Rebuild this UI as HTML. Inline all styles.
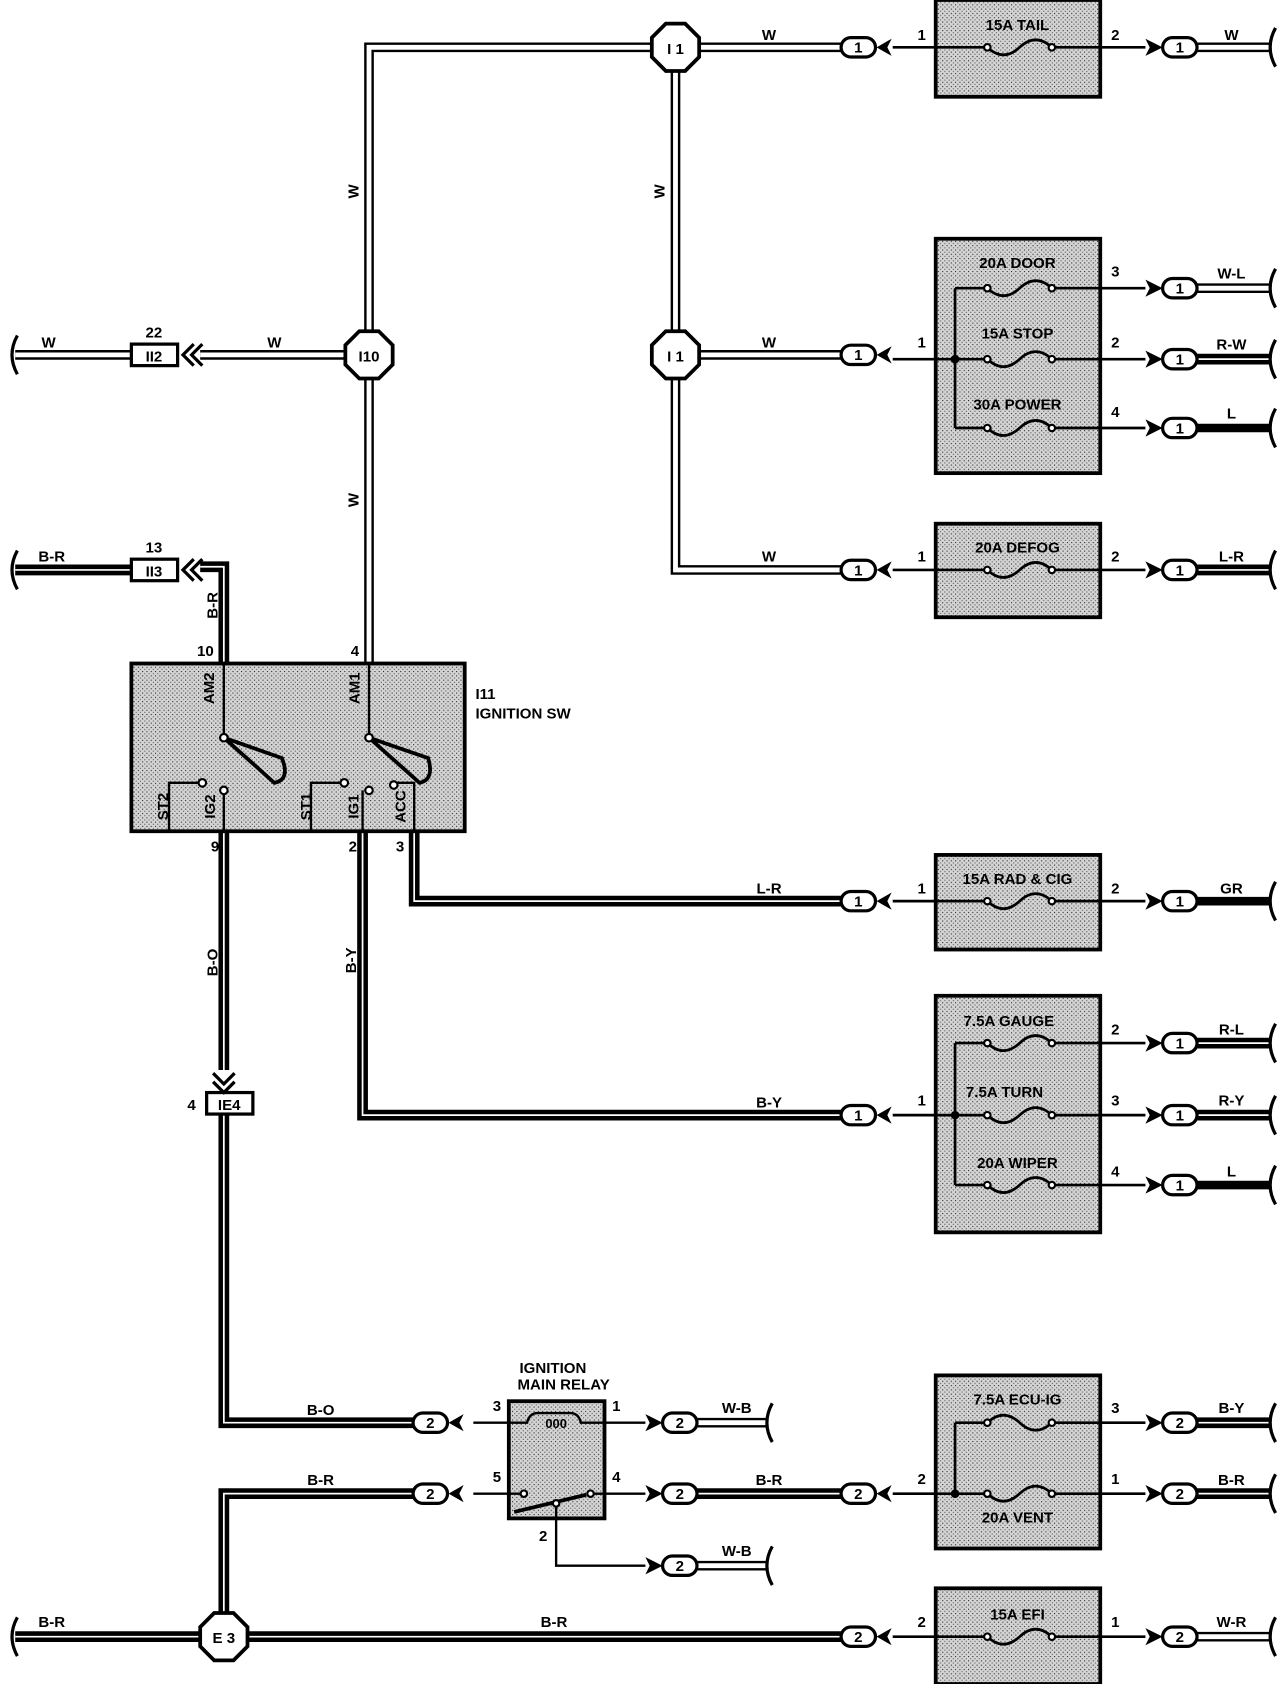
<!DOCTYPE html>
<html><head><meta charset="utf-8"><style>
html,body{margin:0;padding:0;background:#fff;}
svg{display:block;}
text{font-family:"Liberation Sans",sans-serif;font-weight:bold;font-size:14px;fill:#000;}
.t{text-anchor:middle;}
.box{fill:url(#dots);stroke:#000;stroke-width:3.5;}
.c{fill:#fff;stroke:#000;stroke-width:3;}
.ln{fill:none;stroke:#000;stroke-width:2.2;}
.wo{fill:none;stroke:#000;stroke-width:9;}
.wi{fill:none;stroke:#fff;stroke-width:4.5;}
.bo{fill:none;stroke:#000;stroke-width:10;}
.bi{fill:none;stroke:#fff;stroke-width:1.6;}
.th{fill:none;stroke:#000;stroke-width:8;}
.br{fill:none;stroke:#000;stroke-width:3;}
.oc{fill:#fff;stroke:#000;stroke-width:3.5;}
.fu{fill:none;stroke:#000;stroke-width:2.5;}
.pin{fill:#fff;stroke:#000;stroke-width:2;}
</style></head><body>
<svg width="1280" height="1684" viewBox="0 0 1190 1566" xmlns="http://www.w3.org/2000/svg">
<defs>
<pattern id="dots" width="4" height="4" patternUnits="userSpaceOnUse">
<rect width="4" height="4" fill="#d4d4d4"/><rect x="0" y="0" width="1" height="1" fill="#222"/><rect x="2" y="2" width="1" height="1" fill="#555"/>
</pattern>
</defs>

<!-- W wires (white) -->
<polyline class="wo" points="343,310 343,44 606,44"/>
<polyline class="wi" points="343,310 343,44 606,44"/>
<polyline class="wo" points="343,352 343,617"/>
<polyline class="wi" points="343,352 343,617"/>
<polyline class="wo" points="628,66 628,308"/>
<polyline class="wi" points="628,66 628,308"/>
<polyline class="wo" points="628,352 628,530 782,530"/>
<polyline class="wi" points="628,352 628,530 782,530"/>
<polyline class="wo" points="650,44 782,44"/>
<polyline class="wi" points="650,44 782,44"/>
<polyline class="wo" points="650,330 782,330"/>
<polyline class="wi" points="650,330 782,330"/>
<polyline class="wo" points="186,330 321,330"/>
<polyline class="wi" points="186,330 321,330"/>
<polyline class="wo" points="14,330 122,330"/>
<polyline class="wi" points="14,330 122,330"/>

<!-- Black wires -->
<g>
<polyline class="bo" points="14,530 122,530"/><polyline class="bi" points="14,530 122,530"/>
<polyline class="bo" points="186,527 208,527 208,617"/><polyline class="bi" points="186,527 208,527 208,617"/>
<polyline class="bo" points="208,773 208,995"/><polyline class="bi" points="208,773 208,995"/>
<polyline class="bo" points="208,1036 208,1323 384,1323"/><polyline class="bi" points="208,1036 208,1323 384,1323"/>
<polyline class="bo" points="337,773 337,1037 782,1037"/><polyline class="bi" points="337,773 337,1037 782,1037"/>
<polyline class="bo" points="385,773 385,838 782,838"/><polyline class="bi" points="385,773 385,838 782,838"/>
<polyline class="bo" points="384,1389 208,1389 208,1500"/><polyline class="bi" points="384,1389 208,1389 208,1500"/>
<polyline class="bo" points="14,1522 186,1522"/><polyline class="bi" points="14,1522 186,1522"/>
<polyline class="bo" points="230,1522 782,1522"/><polyline class="bi" points="230,1522 782,1522"/>
<polyline class="bo" points="648,1389 782,1389"/><polyline class="bi" points="648,1389 782,1389"/>
</g>

<!-- labels on wires -->
<text class="t" x="715" y="37">W</text>
<text class="t" x="715" y="323">W</text>
<text class="t" x="715" y="522">W</text>
<text class="t" x="45" y="323">W</text>
<text class="t" x="255" y="323">W</text>
<text class="t" x="48" y="522">B-R</text>
<text class="t" x="715" y="831">L-R</text>
<text class="t" x="715" y="1030">B-Y</text>
<text class="t" x="298" y="1316">B-O</text>
<text class="t" x="298" y="1381">B-R</text>
<text class="t" x="48" y="1513">B-R</text>
<text class="t" x="515" y="1513">B-R</text>
<text class="t" x="715" y="1381">B-R</text>
<text class="t" transform="translate(333,178) rotate(-90)">W</text>
<text class="t" transform="translate(618,178) rotate(-90)">W</text>
<text class="t" transform="translate(333,465) rotate(-90)">W</text>
<text class="t" transform="translate(202,563) rotate(-90)">B-R</text>
<text class="t" transform="translate(202,895) rotate(-90)">B-O</text>
<text class="t" transform="translate(331,893) rotate(-90)">B-Y</text>

<!-- octagons -->
<g>
<polygon class="oc" points="619,22 637,22 650,35 650,53 637,66 619,66 606,53 606,35"/><text class="t" x="628" y="50">I 1</text>
<polygon class="oc" points="619,308 637,308 650,321 650,339 637,352 619,352 606,339 606,321"/><text class="t" x="628" y="336">I 1</text>
<polygon class="oc" points="334,308 352,308 365,321 365,339 352,352 334,352 321,339 321,321"/><text class="t" x="343" y="336">I10</text>
<polygon class="oc" points="199,1500 217,1500 230,1513 230,1531 217,1544 199,1544 186,1531 186,1513"/><text class="t" x="208" y="1528">E 3</text>
</g>

<!-- small connectors II2 II3 IE4 -->
<rect x="122" y="320" width="43" height="20" fill="#fff" stroke="#000" stroke-width="3"/><text class="t" x="143" y="336">II2</text>
<text class="t" x="143" y="314">22</text>
<path class="br" d="M180,320 L170,330 L180,340 M188,320 L178,330 L188,340"/>
<rect x="122" y="520" width="43" height="20" fill="#fff" stroke="#000" stroke-width="3"/><text class="t" x="143" y="536">II3</text>
<text class="t" x="143" y="514">13</text>
<path class="br" d="M180,520 L170,530 L180,540 M188,520 L178,530 L188,540"/>
<rect x="192" y="1016" width="43" height="20" fill="#fff" stroke="#000" stroke-width="3"/><text class="t" x="213" y="1032">IE4</text>
<text class="t" x="178" y="1032">4</text>
<path class="br" d="M198,998 L208,1008 L218,998 M198,1006 L208,1016 L218,1006"/>

<!-- left brackets -->
<path class="br" d="M16,312 Q6,330 16,348"/>
<path class="br" d="M16,512 Q6,530 16,548"/>
<path class="br" d="M16,1504 Q6,1522 16,1540"/>

<!-- Ignition switch -->
<rect class="box" x="122" y="617" width="310" height="156"/>
<text x="442" y="650">I11</text>
<text x="442" y="668">IGNITION SW</text>
<text x="183" y="610">10</text>
<text x="326" y="610">4</text>
<text x="196" y="792">9</text>
<text x="324" y="792">2</text>
<text x="368" y="792">3</text>
<path class="ln" d="M208,617 V686 M343,617 V686"/>
<path d="M208,686 L262,705 Q270,725 255,728 Z" fill="none" stroke="#000" stroke-width="3.5"/>
<path d="M343,686 L398,705 Q404,725 390,728 Z" fill="none" stroke="#000" stroke-width="3.5"/>
<circle class="pin" cx="208" cy="686" r="3.5"/><circle class="pin" cx="343" cy="686" r="3.5"/>
<path class="ln" d="M157,773 V728 H187 M208,773 V735 M289,773 V728 H320 M337,773 V735 M385,773 V728 H366"/>
<circle class="pin" cx="188" cy="728" r="3.5"/><circle class="pin" cx="208" cy="735" r="3.5"/>
<circle class="pin" cx="320" cy="728" r="3.5"/><circle class="pin" cx="343" cy="735" r="3.5"/><circle class="pin" cx="366" cy="730" r="3.5"/>
<text class="t" transform="translate(199,640) rotate(-90)">AM2</text>
<text class="t" transform="translate(334,640) rotate(-90)">AM1</text>
<text class="t" transform="translate(156,750) rotate(-90)">ST2</text>
<text class="t" transform="translate(200,750) rotate(-90)">IG2</text>
<text class="t" transform="translate(289,750) rotate(-90)">ST1</text>
<text class="t" transform="translate(333,750) rotate(-90)">IG1</text>
<text class="t" transform="translate(377,750) rotate(-90)">ACC</text>

<!-- Fuse boxes -->
<rect class="box" x="870" y="0" width="153" height="90"/>
<rect class="box" x="870" y="222" width="153" height="218"/>
<rect class="box" x="870" y="487" width="153" height="87"/>
<rect class="box" x="870" y="795" width="153" height="88"/>
<rect class="box" x="870" y="926" width="153" height="220"/>
<rect class="box" x="870" y="1279" width="153" height="161"/>
<rect class="box" x="870" y="1477" width="153" height="89"/>

<text class="t" x="946" y="28">15A TAIL</text>
<text class="t" x="946" y="249">20A DOOR</text>
<text class="t" x="946" y="315">15A STOP</text>
<text class="t" x="946" y="381">30A POWER</text>
<text class="t" x="946" y="514">20A DEFOG</text>
<text class="t" x="946" y="822">15A RAD &amp; CIG</text>
<text class="t" x="938" y="954">7.5A GAUGE</text>
<text class="t" x="934" y="1020">7.5A TURN</text>
<text class="t" x="946" y="1086">20A WIPER</text>
<text class="t" x="946" y="1306">7.5A ECU-IG</text>
<text class="t" x="946" y="1416">20A VENT</text>
<text class="t" x="946" y="1506">15A EFI</text>

<!-- fuse lines -->
<g class="fu">
<path d="M830,44 H918 Q933,58 948,44 Q963,30 978,44 H1065"/>
<path d="M888,268 H918 Q933,282 948,268 Q963,254 978,268 H1065"/>
<path d="M830,334 H918 Q933,348 948,334 Q963,320 978,334 H1065"/>
<path d="M888,398 H918 Q933,412 948,398 Q963,384 978,398 H1065"/>
<path d="M888,268 V398"/>
<path d="M830,530 H918 Q933,544 948,530 Q963,516 978,530 H1065"/>
<path d="M830,838 H918 Q933,852 948,838 Q963,824 978,838 H1065"/>
<path d="M888,970 H918 Q933,984 948,970 Q963,956 978,970 H1065"/>
<path d="M830,1037 H918 Q933,1051 948,1037 Q963,1023 978,1037 H1065"/>
<path d="M888,1102 H918 Q933,1116 948,1102 Q963,1088 978,1102 H1065"/>
<path d="M888,970 V1102"/>
<path d="M888,1323 H918 Q933,1309 948,1323 Q963,1337 978,1323 H1065"/>
<path d="M830,1389 H918 Q933,1403 948,1389 Q963,1375 978,1389 H1065"/>
<path d="M888,1323 V1389"/>
<path d="M830,1522 H918 Q933,1536 948,1522 Q963,1508 978,1522 H1065"/>
</g>
<g fill="#fff" stroke="#000" stroke-width="2">
<circle cx="918" cy="44" r="3"/><circle cx="978" cy="44" r="3"/>
<circle cx="918" cy="268" r="3"/><circle cx="978" cy="268" r="3"/>
<circle cx="918" cy="334" r="3"/><circle cx="978" cy="334" r="3"/>
<circle cx="918" cy="398" r="3"/><circle cx="978" cy="398" r="3"/>
<circle cx="918" cy="530" r="3"/><circle cx="978" cy="530" r="3"/>
<circle cx="918" cy="838" r="3"/><circle cx="978" cy="838" r="3"/>
<circle cx="918" cy="970" r="3"/><circle cx="978" cy="970" r="3"/>
<circle cx="918" cy="1037" r="3"/><circle cx="978" cy="1037" r="3"/>
<circle cx="918" cy="1102" r="3"/><circle cx="978" cy="1102" r="3"/>
<circle cx="918" cy="1323" r="3"/><circle cx="978" cy="1323" r="3"/>
<circle cx="918" cy="1389" r="3"/><circle cx="978" cy="1389" r="3"/>
<circle cx="918" cy="1522" r="3"/><circle cx="978" cy="1522" r="3"/>
</g>
<g fill="#000"><circle cx="888" cy="334" r="4"/><circle cx="888" cy="1037" r="4"/><circle cx="888" cy="1389" r="4"/></g>

<!-- pin numbers at fuse boxes -->
<text class="t" x="857" y="37">1</text><text class="t" x="1037" y="37">2</text>
<text class="t" x="1037" y="257">3</text>
<text class="t" x="857" y="323">1</text><text class="t" x="1037" y="323">2</text>
<text class="t" x="1037" y="388">4</text>
<text class="t" x="857" y="522">1</text><text class="t" x="1037" y="522">2</text>
<text class="t" x="857" y="831">1</text><text class="t" x="1037" y="831">2</text>
<text class="t" x="1037" y="962">2</text>
<text class="t" x="857" y="1028">1</text><text class="t" x="1037" y="1028">3</text>
<text class="t" x="1037" y="1094">4</text>
<text class="t" x="1037" y="1314">3</text>
<text class="t" x="857" y="1380">2</text><text class="t" x="1037" y="1380">1</text>
<text class="t" x="857" y="1513">2</text><text class="t" x="1037" y="1513">1</text>

<!-- output wires right -->
<g>
<polyline class="wo" points="1113,44 1180,44"/><polyline class="wi" points="1113,44 1180,44"/>
<polyline class="wo" points="1113,268 1180,268"/><polyline class="wi" points="1113,268 1180,268"/>
<polyline class="bo" points="1113,334 1180,334"/><polyline class="bi" points="1113,334 1180,334"/>
<polyline class="th" points="1113,398 1180,398"/>
<polyline class="bo" points="1113,530 1180,530"/><polyline class="bi" points="1113,530 1180,530"/>
<polyline class="th" points="1113,838 1180,838"/>
<polyline class="bo" points="1113,970 1180,970"/><polyline class="bi" points="1113,970 1180,970"/>
<polyline class="bo" points="1113,1037 1180,1037"/><polyline class="bi" points="1113,1037 1180,1037"/>
<polyline class="th" points="1113,1102 1180,1102"/>
<polyline class="bo" points="1113,1323 1180,1323"/><polyline class="bi" points="1113,1323 1180,1323"/>
<polyline class="bo" points="1113,1389 1180,1389"/><polyline class="bi" points="1113,1389 1180,1389"/>
<polyline class="wo" points="1113,1522 1180,1522"/><polyline class="wi" points="1113,1522 1180,1522"/>
<polyline class="wo" points="648,1323 712,1323"/><polyline class="wi" points="648,1323 712,1323"/>
<polyline class="wo" points="648,1456 712,1456"/><polyline class="wi" points="648,1456 712,1456"/>
</g>
<text class="t" x="1145" y="37">W</text>
<text class="t" x="1145" y="259">W-L</text>
<text class="t" x="1145" y="325">R-W</text>
<text class="t" x="1145" y="389">L</text>
<text class="t" x="1145" y="522">L-R</text>
<text class="t" x="1145" y="831">GR</text>
<text class="t" x="1145" y="962">R-L</text>
<text class="t" x="1145" y="1028">R-Y</text>
<text class="t" x="1145" y="1094">L</text>
<text class="t" x="1145" y="1314">B-Y</text>
<text class="t" x="1145" y="1381">B-R</text>
<text class="t" x="1145" y="1513">W-R</text>
<text class="t" x="685" y="1314">W-B</text>
<text class="t" x="685" y="1447">W-B</text>

<!-- right brackets -->
<g class="br">
<path d="M1186,26 Q1176,44 1186,62"/><path d="M1186,250 Q1176,268 1186,286"/><path d="M1186,316 Q1176,334 1186,352"/>
<path d="M1186,380 Q1176,398 1186,416"/><path d="M1186,512 Q1176,530 1186,548"/><path d="M1186,820 Q1176,838 1186,856"/>
<path d="M1186,952 Q1176,970 1186,988"/><path d="M1186,1019 Q1176,1037 1186,1055"/><path d="M1186,1084 Q1176,1102 1186,1120"/>
<path d="M1186,1305 Q1176,1323 1186,1341"/><path d="M1186,1371 Q1176,1389 1186,1407"/><path d="M1186,1504 Q1176,1522 1186,1540"/>
<path d="M718,1305 Q708,1323 718,1341"/><path d="M718,1438 Q708,1456 718,1474"/>
</g>

<!-- relay -->
<text class="t" x="514" y="1277">IGNITION</text>
<text class="t" x="524" y="1292">MAIN RELAY</text>
<rect class="box" x="473" y="1303" width="89" height="109"/>
<path class="ln" d="M440,1323 H490 Q492,1314 500,1314 H530 Q538,1314 540,1323 H600"/>
<text class="t" x="517" y="1328" style="font-size:12px">000</text>
<path class="ln" d="M440,1389 H485 M550,1389 H600"/>
<circle class="pin" cx="487" cy="1389" r="3"/><circle class="pin" cx="549" cy="1389" r="3"/>
<path d="M478,1406 L545,1390" stroke="#000" stroke-width="3.5"/>
<circle class="pin" cx="517" cy="1398" r="3"/>
<path class="ln" d="M517,1400 V1456 H600"/>
<text class="t" x="462" y="1312">3</text><text class="t" x="573" y="1312">1</text>
<text class="t" x="462" y="1378">5</text><text class="t" x="573" y="1378">4</text>
<text class="t" x="505" y="1433">2</text>

<!-- arrows -->
<g fill="#000">
<polygon points="815,44 829,36 825,44 829,52"/>
<polygon points="815,330 829,322 825,330 829,338"/>
<polygon points="815,530 829,522 825,530 829,538"/>
<polygon points="815,838 829,830 825,838 829,846"/>
<polygon points="815,1037 829,1029 825,1037 829,1045"/>
<polygon points="815,1389 829,1381 825,1389 829,1397"/>
<polygon points="815,1522 829,1514 825,1522 829,1530"/>
<polygon points="417,1323 431,1315 427,1323 431,1331"/>
<polygon points="417,1389 431,1381 427,1389 431,1397"/>
<polygon points="1081,44 1065,36 1069,44 1065,52"/>
<polygon points="1081,268 1065,260 1069,268 1065,276"/>
<polygon points="1081,334 1065,326 1069,334 1065,342"/>
<polygon points="1081,398 1065,390 1069,398 1065,406"/>
<polygon points="1081,530 1065,522 1069,530 1065,538"/>
<polygon points="1081,838 1065,830 1069,838 1065,846"/>
<polygon points="1081,970 1065,962 1069,970 1065,978"/>
<polygon points="1081,1037 1065,1029 1069,1037 1065,1045"/>
<polygon points="1081,1102 1065,1094 1069,1102 1065,1110"/>
<polygon points="1081,1323 1065,1315 1069,1323 1065,1331"/>
<polygon points="1081,1389 1065,1381 1069,1389 1065,1397"/>
<polygon points="1081,1522 1065,1514 1069,1522 1065,1530"/>
<polygon points="616,1323 600,1315 604,1323 600,1331"/>
<polygon points="616,1389 600,1381 604,1389 600,1397"/>
<polygon points="616,1456 600,1448 604,1456 600,1464"/>
</g>

<!-- connectors -->
<g>
<rect class="c" x="782" y="35" width="32" height="18" rx="9"/><text class="t" x="798" y="49">1</text>
<rect class="c" x="782" y="321" width="32" height="18" rx="9"/><text class="t" x="798" y="335">1</text>
<rect class="c" x="782" y="521" width="32" height="18" rx="9"/><text class="t" x="798" y="535">1</text>
<rect class="c" x="782" y="829" width="32" height="18" rx="9"/><text class="t" x="798" y="843">1</text>
<rect class="c" x="782" y="1028" width="32" height="18" rx="9"/><text class="t" x="798" y="1042">1</text>
<rect class="c" x="782" y="1380" width="32" height="18" rx="9"/><text class="t" x="798" y="1394">2</text>
<rect class="c" x="782" y="1513" width="32" height="18" rx="9"/><text class="t" x="798" y="1527">2</text>
<rect class="c" x="384" y="1314" width="32" height="18" rx="9"/><text class="t" x="400" y="1328">2</text>
<rect class="c" x="384" y="1380" width="32" height="18" rx="9"/><text class="t" x="400" y="1394">2</text>
<rect class="c" x="616" y="1314" width="32" height="18" rx="9"/><text class="t" x="632" y="1328">2</text>
<rect class="c" x="616" y="1380" width="32" height="18" rx="9"/><text class="t" x="632" y="1394">2</text>
<rect class="c" x="616" y="1447" width="32" height="18" rx="9"/><text class="t" x="632" y="1461">2</text>
<rect class="c" x="1081" y="35" width="32" height="18" rx="9"/><text class="t" x="1097" y="49">1</text>
<rect class="c" x="1081" y="259" width="32" height="18" rx="9"/><text class="t" x="1097" y="273">1</text>
<rect class="c" x="1081" y="325" width="32" height="18" rx="9"/><text class="t" x="1097" y="339">1</text>
<rect class="c" x="1081" y="389" width="32" height="18" rx="9"/><text class="t" x="1097" y="403">1</text>
<rect class="c" x="1081" y="521" width="32" height="18" rx="9"/><text class="t" x="1097" y="535">1</text>
<rect class="c" x="1081" y="829" width="32" height="18" rx="9"/><text class="t" x="1097" y="843">1</text>
<rect class="c" x="1081" y="961" width="32" height="18" rx="9"/><text class="t" x="1097" y="975">1</text>
<rect class="c" x="1081" y="1028" width="32" height="18" rx="9"/><text class="t" x="1097" y="1042">1</text>
<rect class="c" x="1081" y="1093" width="32" height="18" rx="9"/><text class="t" x="1097" y="1107">1</text>
<rect class="c" x="1081" y="1314" width="32" height="18" rx="9"/><text class="t" x="1097" y="1328">2</text>
<rect class="c" x="1081" y="1380" width="32" height="18" rx="9"/><text class="t" x="1097" y="1394">2</text>
<rect class="c" x="1081" y="1513" width="32" height="18" rx="9"/><text class="t" x="1097" y="1527">2</text>
</g>
</svg>
</body></html>
